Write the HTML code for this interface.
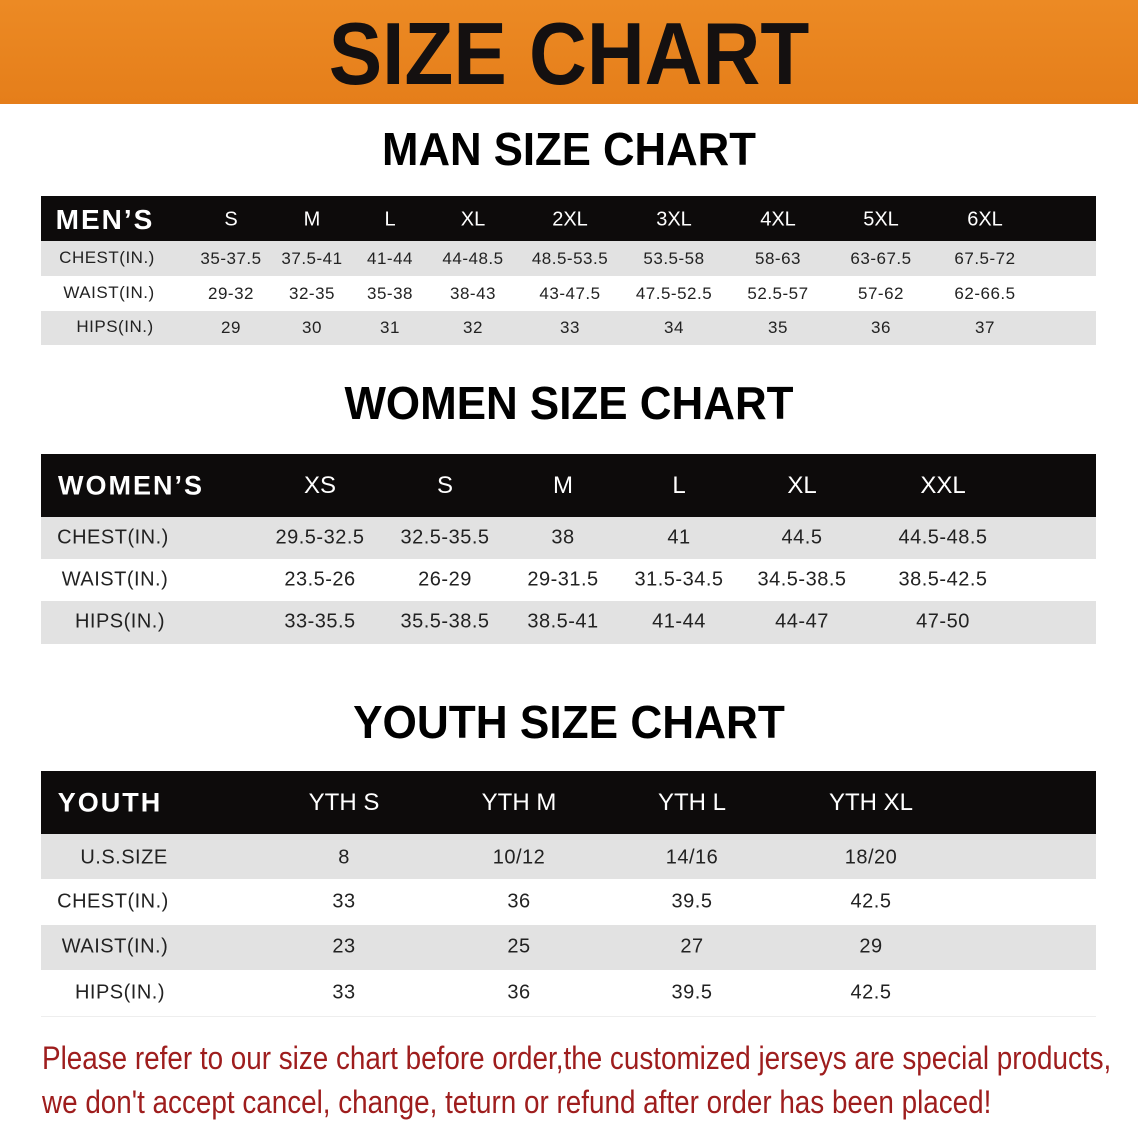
<!DOCTYPE html>
<html><head><meta charset="utf-8"><style>
*{margin:0;padding:0;box-sizing:border-box}
body{width:1138px;height:1132px;background:#fff;position:relative;overflow:hidden;font-family:"Liberation Sans",sans-serif}
.a{position:absolute}
.t{position:absolute;transform:translate(-50%,-50%);white-space:nowrap}
.hdr{background:#0d0b0b}
.g{background:#e2e2e2}
.h{color:#fff}
.hb{color:#fff;font-weight:bold}
.title{position:absolute;left:0;width:1138px;text-align:center;font-weight:bold;color:#000}
.c{color:#222;font-size:18px;letter-spacing:0.5px}
</style></head><body>
<div class="a" style="left:0;top:0;width:1138px;height:104px;background:linear-gradient(#ec8a24,#e57e1a)"></div>
<div class="title" style="top:6px;font-size:88px;line-height:96px;color:#141010;transform:scaleX(0.91)">SIZE CHART</div>
<div class="title" style="top:124px;font-size:46px;line-height:50px;transform:scaleX(0.95)">MAN SIZE CHART</div>
<div class="title" style="top:378px;font-size:46px;line-height:50px;transform:scaleX(0.955)">WOMEN SIZE CHART</div>
<div class="title" style="top:697px;font-size:46px;line-height:50px;transform:scaleX(0.96)">YOUTH SIZE CHART</div>

<div class="a hdr" style="left:41px;top:196px;width:1055px;height:45px"></div>
<div class="a g" style="left:41px;top:241px;width:1055px;height:35px"></div>
<div class="a g" style="left:41px;top:311px;width:1055px;height:34px"></div>
<div class="t hb" style="left:105px;top:220px;font-size:28px;letter-spacing:2px">MEN’S</div>

<div class="a hdr" style="left:41px;top:454px;width:1055px;height:63px"></div>
<div class="a g" style="left:41px;top:517px;width:1055px;height:42px"></div>
<div class="a g" style="left:41px;top:601px;width:1055px;height:43px"></div>
<div class="t hb" style="left:131px;top:486px;font-size:27px;letter-spacing:2px">WOMEN’S</div>

<div class="a hdr" style="left:41px;top:771px;width:1055px;height:63px"></div>
<div class="a g" style="left:41px;top:834px;width:1055px;height:45px"></div>
<div class="a g" style="left:41px;top:925px;width:1055px;height:45px"></div>
<div class="a" style="left:41px;top:1016px;width:1055px;height:1px;background:#eee"></div>
<div class="t hb" style="left:110px;top:803px;font-size:27px;letter-spacing:2px">YOUTH</div>

<div class="a" style="left:42px;top:1036px;font-size:32px;line-height:44px;color:#9e1d1d;white-space:nowrap;transform:scaleX(0.87);transform-origin:0 0">Please refer to our size chart before order,the customized jerseys are special products,<br>we don't accept cancel, change, teturn or refund after order has been placed!</div>

<script>
function put(xs,y,vals,cls,fs){vals.forEach((v,i)=>{const d=document.createElement('div');d.className='t '+cls;d.style.left=xs[i]+'px';d.style.top=y+'px';d.style.fontSize=fs+'px';d.textContent=v;document.body.appendChild(d);});}
const mx=[231,312,390,473,570,674,778,881,985];
put(mx,220,['S','M','L','XL','2XL','3XL','4XL','5XL','6XL'],'h',20);
put([107],258,['CHEST(IN.)'],'c',17);put([109],293,['WAIST(IN.)'],'c',17);put([115],327,['HIPS(IN.)'],'c',17);
put(mx,259,['35-37.5','37.5-41','41-44','44-48.5','48.5-53.5','53.5-58','58-63','63-67.5','67.5-72'],'c',17);
put(mx,294,['29-32','32-35','35-38','38-43','43-47.5','47.5-52.5','52.5-57','57-62','62-66.5'],'c',17);
put(mx,328,['29','30','31','32','33','34','35','36','37'],'c',17);
const wx=[320,445,563,679,802,943];
put(wx,486,['XS','S','M','L','XL','XXL'],'h',24);
put([113],538,['CHEST(IN.)'],'c',20);put([115],580,['WAIST(IN.)'],'c',20);put([120],622,['HIPS(IN.)'],'c',20);
put(wx,538,['29.5-32.5','32.5-35.5','38','41','44.5','44.5-48.5'],'c',20);
put(wx,580,['23.5-26','26-29','29-31.5','31.5-34.5','34.5-38.5','38.5-42.5'],'c',20);
put(wx,622,['33-35.5','35.5-38.5','38.5-41','41-44','44-47','47-50'],'c',20);
const yx=[344,519,692,871];
put(yx,803,['YTH S','YTH M','YTH L','YTH XL'],'h',24);
put([124],858,['U.S.SIZE'],'c',20);put([113],902,['CHEST(IN.)'],'c',20);put([115],947,['WAIST(IN.)'],'c',20);put([120],993,['HIPS(IN.)'],'c',20);
put(yx,858,['8','10/12','14/16','18/20'],'c',20);
put(yx,902,['33','36','39.5','42.5'],'c',20);
put(yx,947,['23','25','27','29'],'c',20);
put(yx,993,['33','36','39.5','42.5'],'c',20);
</script>
</body></html>
